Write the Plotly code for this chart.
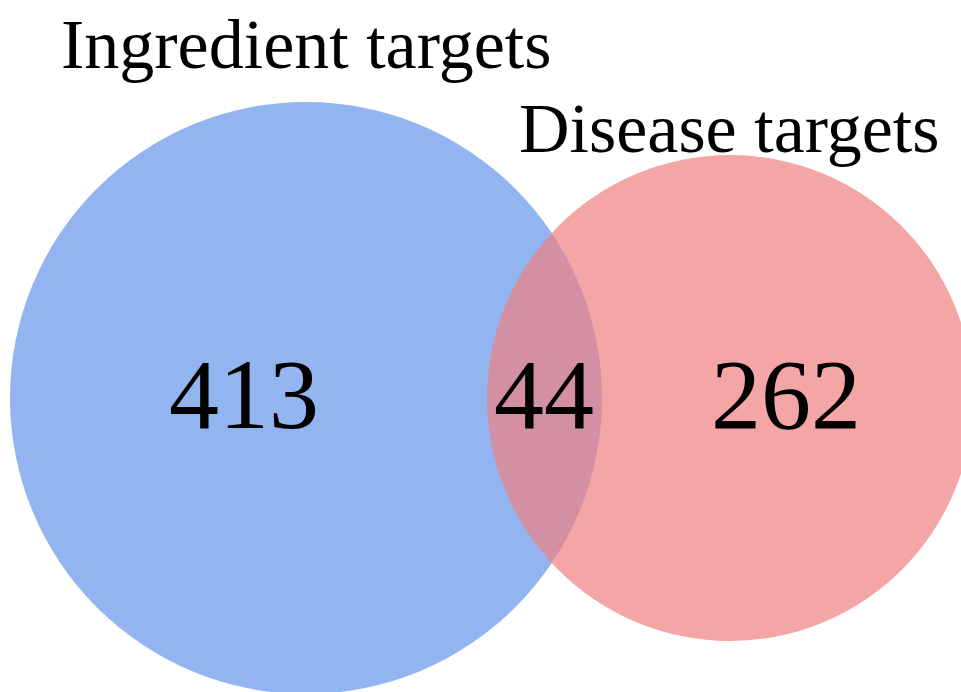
import plotly.graph_objects as go

# Data
set_labels = ["Ingredient targets", "Disease targets"]
region_labels = ["only_ingredient", "both", "only_disease"]
region_counts = [413, 44, 262]

# Geometry (pixel-like data units)
W, H = 961, 692
circles = [
    dict(cx=306, cy=398, r=296, color="rgba(100,149,237,0.7)"),
    dict(cx=730, cy=398, r=243, color="rgba(240,128,128,0.7)"),
]
label_pos = [(306, 44), (729, 128)]
count_pos = [(244, 394), (544, 394), (786, 394)]

fig = go.Figure()
# invisible trace to establish axes
fig.add_trace(go.Scatter(x=[0, W], y=[0, H], mode="markers",
                         marker=dict(opacity=0), hoverinfo="skip", showlegend=False))

for c in circles:
    fig.add_shape(type="circle", xref="x", yref="y",
                  x0=c["cx"] - c["r"], x1=c["cx"] + c["r"],
                  y0=c["cy"] - c["r"], y1=c["cy"] + c["r"],
                  fillcolor=c["color"], line=dict(width=0), layer="below")

font_serif = "Liberation Serif, Times New Roman, serif"
for lab, (x, y) in zip(set_labels, label_pos):
    fig.add_annotation(x=x, y=y, text=lab, showarrow=False, xanchor="center", yanchor="middle",
                       font=dict(family=font_serif, size=70, color="black"))

for cnt, (x, y) in zip(region_counts, count_pos):
    fig.add_annotation(x=x, y=y, text=str(cnt), showarrow=False, xanchor="center", yanchor="middle",
                       font=dict(family=font_serif, size=100, color="black"))

fig.update_layout(
    width=W, height=H,
    margin=dict(l=0, r=0, t=0, b=0),
    paper_bgcolor="white", plot_bgcolor="white",
    xaxis=dict(range=[0, W], visible=False, fixedrange=True),
    yaxis=dict(range=[H, 0], visible=False, fixedrange=True),
    showlegend=False,
)

fig.write_html("out.html", config={"displayModeBar": False},
               post_script="document.body.style.margin='0';document.body.style.overflow='hidden';")
